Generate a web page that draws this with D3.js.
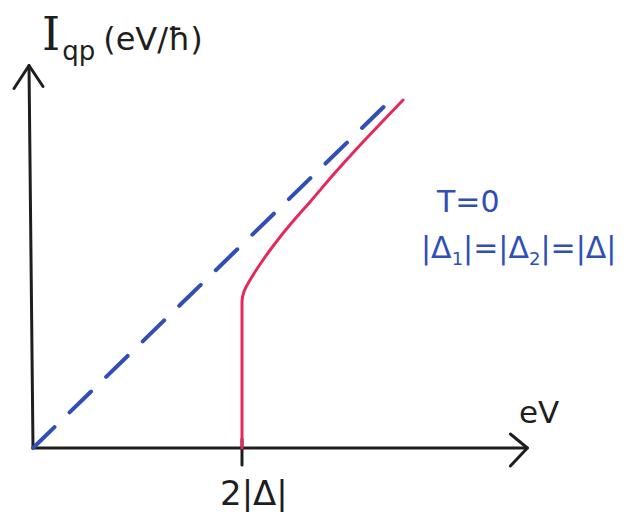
<!DOCTYPE html>
<html>
<head>
<meta charset="utf-8">
<script src="https://cdn.jsdelivr.net/npm/d3@7"></script>
<style>
  html, body { margin: 0; padding: 0; background: #fff; }
  svg { display: block; }
  text { font-family: "DejaVu Sans", sans-serif; }
</style>
</head>
<body>
<script>
// Data in units of |Delta| (x: eV/|Δ|, y: I_qp in eV/ħ per |Δ|)
const normalX = [0, 3.483];
const normalY = [0, 3.388];
const sisX = [2.0, 2.0, 2.02, 2.077, 2.201, 2.364, 2.523, 2.651, 2.871, 3.100, 3.321, 3.541];
const sisY = [0, 1.40, 1.50, 1.608, 1.799, 2.019, 2.210, 2.355, 2.612, 2.866, 3.100, 3.330];
const tickValues = [2];
const tickLabels = ["2|Δ|"];

const W = 631, H = 512;
const svg = d3.select("body").append("svg").attr("width", W).attr("height", H);

const x = d3.scaleLinear().domain([0, 4.75]).range([33, 33 + 4.75 * 104.5]);
const y = d3.scaleLinear().domain([0, 3.66]).range([448, 448 - 3.66 * 104.5]);

const axisColor = "#1e1e1e";
const blue = "#2f4fb6";
const red = "#e6285c";

// axes
const ax = svg.append("g").attr("stroke", axisColor).attr("stroke-width", 3).attr("fill", "none")
  .attr("stroke-linecap", "round").attr("stroke-linejoin", "round");
ax.append("line").attr("x1", x(0)).attr("y1", y(0)).attr("x2", x(4.75) - 2).attr("y2", y(0));
ax.append("line").attr("x1", x(0)).attr("y1", y(0)).attr("x2", x(0) - 4).attr("y2", y(3.66));
// arrow heads
ax.append("path").attr("d", `M${x(4.75)-19},${y(0)-14} L${x(4.75)-2},${y(0)} L${x(4.75)-19},${y(0)+18}`);
ax.append("path").attr("d", `M${x(0)-19},${y(3.66)+23} L${x(0)-4},${y(3.66)} L${x(0)+10},${y(3.66)+21}`);

// ticks
tickValues.forEach((v, i) => {
  ax.append("line").attr("x1", x(v)).attr("x2", x(v)).attr("y1", y(0) - 9).attr("y2", y(0) + 17);
  svg.append("text").attr("x", x(v) - 22).attr("y", 505).attr("font-size", 34).attr("fill", axisColor)
    .text(tickLabels[i]);
});

const line = d3.line().x(d => x(d[0])).y(d => y(d[1]));

// normal-state (dashed) line
svg.append("path")
  .datum(normalX.map((v, i) => [v, normalY[i]]))
  .attr("d", line)
  .attr("fill", "none").attr("stroke", blue).attr("stroke-width", 4)
  .attr("stroke-linecap", "round").attr("stroke-dasharray", "30,21");

// SIS curve
svg.append("path")
  .datum(sisX.map((v, i) => [v, sisY[i]]))
  .attr("d", d3.line().x(d => x(d[0])).y(d => y(d[1])).curve(d3.curveMonotoneY))
  .attr("fill", "none").attr("stroke", red).attr("stroke-width", 3)
  .attr("stroke-linecap", "round");

// y label
const yl = svg.append("text").attr("x", 42).attr("y", 50).attr("fill", axisColor);
yl.append("tspan").attr("font-size", 46).attr("font-family", "DejaVu Serif").text("I");
yl.append("tspan").attr("font-size", 26).attr("dy", 10).attr("dx", 2).text("qp");
yl.append("tspan").attr("font-size", 32).attr("dy", -10).attr("dx", 8).text("(eV/ħ)");

// x label
svg.append("text").attr("x", 519).attr("y", 423).attr("font-size", 31).attr("fill", axisColor).text("eV");

// annotations
svg.append("text").attr("x", 437).attr("y", 212).attr("font-size", 30).attr("fill", blue).text("T=0");
const ann = svg.append("text").attr("x", 421).attr("y", 258).attr("font-size", 30).attr("fill", blue);
ann.append("tspan").text("|Δ");
ann.append("tspan").attr("font-size", 18).attr("dy", 7).text("1");
ann.append("tspan").attr("dy", -7).text("|=|Δ");
ann.append("tspan").attr("font-size", 18).attr("dy", 7).text("2");
ann.append("tspan").attr("dy", -7).text("|=|Δ|");
</script>
</body>
</html>
